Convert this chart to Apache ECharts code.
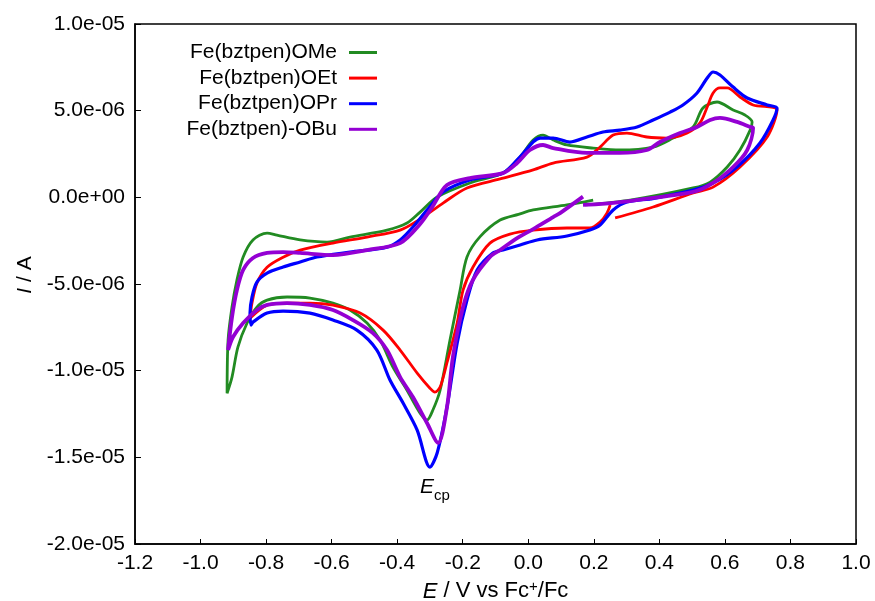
<!DOCTYPE html>
<html>
<head>
<meta charset="utf-8">
<script src="https://cdn.jsdelivr.net/npm/echarts@6/dist/echarts.min.js"></script>
<style>
  html, body { margin: 0; padding: 0; background: #fff; }
  #chart { width: 875px; height: 601px; }
</style>
</head>
<body>
<div id="chart"></div>
<script>
// Cyclic voltammograms: potential E (V vs Fc+/Fc) and current I (in µA) along each scan path.
const potentialOMe = [
  0.173, 0.311, 0.503, 0.555, 0.607, 0.646, 0.677, 0.683,
  0.661, 0.625, 0.576, 0.533, 0.503, 0.442, 0.381, 0.280, 0.198, 0.118,
  0.076, 0.045, 0.015, -0.025, -0.077, -0.178, -0.278, -0.330, -0.370, -0.431,
  -0.544, -0.614, -0.696, -0.767, -0.797, -0.840, -0.870, -0.889, -0.904, -0.916, -0.919,
  -0.904, -0.886, -0.858, -0.828, -0.797, -0.736, -0.666, -0.596, -0.544, -0.492,
  -0.452, -0.413, -0.370, -0.330, -0.309, -0.291, -0.269, -0.239, -0.208, -0.187,
  -0.147, -0.086, -0.030, 0.015, 0.118, 0.198
];
const currentOMe = [
  -0.44, -0.16, 0.54, 0.88, 1.75, 2.73, 3.88, 4.35,
  4.75, 5.04, 5.50, 5.15, 4.06, 3.42, 2.90, 2.73, 2.84, 3.02,
  3.31, 3.59, 3.31, 2.33, 1.40, 0.83, 0.02, -0.85, -1.48, -1.89,
  -2.29, -2.58, -2.46, -2.18, -2.06, -2.46, -3.44, -4.77, -6.33, -8.24, -11.30,
  -10.37, -8.64, -7.25, -6.33, -5.93, -5.75, -5.81, -6.10, -6.50, -7.25,
  -8.24, -9.80, -11.13, -12.45, -12.85, -12.27, -11.13, -8.24, -5.35, -3.44,
  -2.27, -1.31, -0.98, -0.73, -0.44, -0.16
];

const potentialOEt = [
  0.265, 0.381, 0.503, 0.564, 0.646, 0.729, 0.759,
  0.686, 0.646, 0.607, 0.585, 0.564, 0.546, 0.524, 0.485, 0.424, 0.362,
  0.301, 0.259, 0.219, 0.179, 0.076, 0.015, -0.086, -0.187, -0.260, -0.330,
  -0.391, -0.492, -0.596, -0.696, -0.748, -0.797, -0.828, -0.843, -0.849,
  -0.797, -0.736, -0.666, -0.596, -0.513, -0.443, -0.391, -0.339, -0.300, -0.285,
  -0.269, -0.248, -0.217, -0.199, -0.169, -0.117, -0.056, 0.015, 0.118, 0.188,
  0.219, 0.240, 0.250
];
const currentOEt = [
  -1.19, -0.56, 0.25, 0.59, 1.75, 3.48, 5.04,
  5.33, 5.79, 6.31, 6.31, 6.02, 5.21, 4.29, 3.71, 3.42, 3.48,
  3.71, 3.59, 2.90, 2.32, 1.98, 1.58, 1.06, 0.54, -0.33, -1.25,
  -1.89, -2.29, -2.64, -3.05, -3.45, -4.03, -4.95, -6.10, -6.97,
  -6.22, -6.10, -6.10, -6.22, -6.68, -7.66, -8.81, -10.14, -11.01, -11.24,
  -10.95, -9.54, -7.25, -5.35, -4.03, -2.64, -2.12, -1.89, -1.77, -1.77,
  -1.43, -0.91, -0.44
];

const potentialOPr = [
  0.372, 0.503, 0.564, 0.637, 0.707, 0.747, 0.759,
  0.729, 0.668, 0.625, 0.585, 0.564, 0.546, 0.515, 0.472, 0.433, 0.381,
  0.332, 0.280, 0.228, 0.179, 0.127, 0.076, 0.036, -0.025, -0.077, -0.178,
  -0.260, -0.309, -0.352, -0.391, -0.431, -0.544, -0.645, -0.696, -0.748, -0.797,
  -0.828, -0.843, -0.849, -0.846,
  -0.840, -0.797, -0.748, -0.666, -0.596, -0.523, -0.462, -0.422, -0.382, -0.339,
  -0.300, -0.278, -0.248, -0.217, -0.187, -0.156, -0.108, -0.077, -0.025, 0.027,
  0.118, 0.188, 0.219, 0.259, 0.301, 0.372
];
const currentOPr = [
  -0.10, 0.42, 0.83, 1.75, 3.13, 4.46, 5.15,
  5.33, 5.73, 6.36, 7.06, 7.23, 6.88, 6.02, 5.33, 4.92, 4.46,
  4.06, 3.88, 3.77, 3.48, 3.19, 3.42, 3.42, 2.33, 1.40, 1.00,
  0.31, -0.73, -1.71, -2.46, -2.87, -3.16, -3.44, -3.73, -4.02, -4.37,
  -4.89, -5.75, -6.68, -7.37,
  -7.20, -6.68, -6.56, -6.68, -7.08, -7.66, -8.81, -10.54, -11.87, -13.43,
  -15.56, -14.75, -12.10, -8.41, -5.93, -4.19, -3.21, -3.04, -2.75, -2.46,
  -2.23, -1.89, -1.60, -0.73, -0.27, -0.10
];

const potentialOBu = [
  0.167, 0.280, 0.503, 0.564, 0.625, 0.668, 0.686,
  0.677, 0.637, 0.585, 0.555, 0.515, 0.463, 0.402, 0.362, 0.280, 0.179,
  0.076, 0.045, 0.005, -0.034, -0.077, -0.178, -0.248, -0.291, -0.330, -0.391,
  -0.492, -0.596, -0.696, -0.748, -0.797, -0.840, -0.870, -0.889, -0.904, -0.916,
  -0.901, -0.870, -0.828, -0.797, -0.736, -0.666, -0.596, -0.535, -0.474, -0.431,
  -0.391, -0.352, -0.309, -0.275, -0.248, -0.230, -0.199, -0.169, -0.117, -0.086,
  -0.034, 0.015, 0.076, 0.097, 0.167
];
const currentOBu = [
  -0.44, -0.27, 0.31, 0.83, 1.75, 2.73, 4.00,
  4.06, 4.35, 4.58, 4.46, 4.06, 3.71, 3.19, 2.73, 2.56, 2.56,
  2.84, 3.02, 2.73, 1.98, 1.40, 1.11, 0.71, -0.50, -1.54, -2.64,
  -3.04, -3.33, -3.21, -3.16, -3.21, -3.50, -4.19, -5.35, -6.91, -8.81,
  -8.06, -7.25, -6.50, -6.21, -6.10, -6.21, -6.50, -7.08, -7.83, -8.81,
  -10.37, -11.52, -13.02, -14.17, -12.10, -9.21, -6.33, -4.77, -3.44, -3.04,
  -2.35, -1.83, -1.14, -0.91, 0.04
];

const seriesNames = ['Fe(bztpen)OMe', 'Fe(bztpen)OEt', 'Fe(bztpen)OPr', 'Fe(bztpen)-OBu'];
const seriesColors = ['#228b22', '#ff0000', '#0000ff', '#9400d3'];
const seriesWidths = [2.8, 2.8, 3.2, 3.8];

// Cathodic peak annotation position (E, I in µA)
const peakLabelE = -0.285;
const peakLabelI = -16.9;

const xTicks = { min: -1.2, max: 1.0, interval: 0.2 };
const yTicks = { min: -20, max: 10, interval: 5 };

const FONT = 'Liberation Sans, Arial, Helvetica, sans-serif';

function zip(xs, ys) {
  return xs.map((x, i) => [x, ys[i]]);
}

function sciLabel(v) {
  // current in µA -> ampere label, gnuplot-like "1.0e-05"
  const s = (v * 1e-6).toExponential(1);
  return s.replace(/e([+-])(\d)$/, 'e$10$2');
}

const curves = [
  zip(potentialOMe, currentOMe),
  zip(potentialOEt, currentOEt),
  zip(potentialOPr, currentOPr),
  zip(potentialOBu, currentOBu)
];

const lineSeries = curves.map((data, i) => ({
  name: seriesNames[i],
  type: 'line',
  data: data,
  showSymbol: false,
  symbol: 'none',
  smooth: 0.3,
  color: seriesColors[i],
  lineStyle: { color: seriesColors[i], width: seriesWidths[i] },
  z: 2 + i,
  silent: true
}));

const chart = echarts.init(document.getElementById('chart'), null, { renderer: 'canvas' });

chart.setOption({
  animation: false,
  backgroundColor: '#ffffff',
  textStyle: { fontFamily: FONT },
  grid: {
    left: 135, right: 19, top: 24, bottom: 57,
    containLabel: false,
    outerBoundsMode: 'none'
  },
  legend: {
    data: seriesNames,
    orient: 'vertical',
    align: 'right',
    right: 498,
    top: 42,
    padding: 0,
    itemGap: 4.6,
    itemWidth: 28,
    itemHeight: 3,
    icon: 'rect',
    selectedMode: false,
    textStyle: {
      fontFamily: FONT,
      fontSize: 21,
      lineHeight: 21,
      color: '#000',
      padding: [0, 7, 0, 0]
    }
  },
  xAxis: {
    type: 'value',
    min: xTicks.min,
    max: xTicks.max,
    interval: xTicks.interval,
    name: '{i|E} / V vs Fc{sup|+}/Fc',
    nameLocation: 'middle',
    nameGap: 32,
    nameTextStyle: {
      fontFamily: FONT,
      fontSize: 22,
      color: '#000',
      rich: {
        i: { fontFamily: FONT, fontSize: 22, fontStyle: 'italic', color: '#000' },
        sup: { fontFamily: FONT, fontSize: 15, color: '#000', verticalAlign: 'top', padding: [0, 0, 10, 0] }
      }
    },
    axisLine: { show: true, onZero: false, lineStyle: { color: '#000', width: 1.5 } },
    axisTick: { show: true, inside: true, length: 5, lineStyle: { color: '#000', width: 1 } },
    axisLabel: {
      margin: 9,
      fontFamily: FONT,
      fontSize: 21,
      color: '#000',
      formatter: v => v.toFixed(1)
    },
    splitLine: { show: false }
  },
  yAxis: {
    type: 'value',
    min: yTicks.min,
    max: yTicks.max,
    interval: yTicks.interval,
    axisLine: { show: true, onZero: false, lineStyle: { color: '#000', width: 1.5 } },
    axisTick: { show: true, inside: true, length: 6, lineStyle: { color: '#000', width: 1 } },
    axisLabel: {
      margin: 10,
      fontFamily: FONT,
      fontSize: 21,
      color: '#000',
      formatter: sciLabel
    },
    splitLine: { show: false }
  },
  graphic: [
    {
      type: 'rect',
      shape: { x: 135, y: 24, width: 721, height: 520 },
      style: { fill: 'none', stroke: '#000', lineWidth: 1.5 },
      silent: true,
      z: 1
    },
    {
      type: 'text',
      x: 25,
      y: 275,
      rotation: Math.PI / 2,
      style: {
        text: '{i|I} / A',
        fontFamily: FONT,
        fontSize: 21,
        fill: '#000',
        align: 'center',
        verticalAlign: 'middle',
        rich: {
          i: { fontFamily: FONT, fontSize: 21, fontStyle: 'italic', fill: '#000' }
        }
      }
    }
  ],
  series: lineSeries.concat([
    {
      name: 'peak-label',
      type: 'scatter',
      data: [[peakLabelE, peakLabelI]],
      symbolSize: 1,
      itemStyle: { color: '#fff', opacity: 0 },
      silent: true,
      z: 10,
      label: {
        show: true,
        position: 'inside',
        color: '#000',
        opacity: 1,
        formatter: '{e|E}{s|cp}',
        rich: {
          e: { fontFamily: FONT, fontSize: 21, fontStyle: 'italic', color: '#000', verticalAlign: 'top' },
          s: { fontFamily: FONT, fontSize: 15, color: '#000', verticalAlign: 'bottom', padding: [12, 0, 0, 0] }
        }
      }
    }
  ])
});
</script>
</body>
</html>
